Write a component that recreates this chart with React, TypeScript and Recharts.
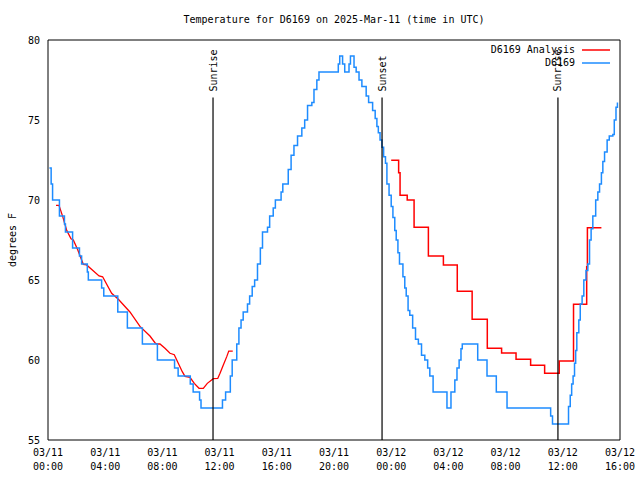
import React from "react";
import { ComposedChart, Line, XAxis, YAxis, ReferenceLine } from "recharts";

const FONT = "'DejaVu Sans Mono', 'Liberation Mono', monospace";
const RED = "#ff0000";
const BLUE = "#1e8cff";

// hours since 03/11 00:00 UTC
const MAJOR_HOURS = [0, 4, 8, 12, 16, 20, 24, 28, 32, 36, 40];
const ALL_HOURS = [
  0, 1, 2, 3, 4, 5, 6, 7, 8, 9, 10, 11, 12, 13, 14, 15, 16, 17, 18, 19, 20,
  21, 22, 23, 24, 25, 26, 27, 28, 29, 30, 31, 32, 33, 34, 35, 36, 37, 38, 39, 40,
];
const DATE_LABELS = ["03/11", "03/11", "03/11", "03/11", "03/11", "03/11", "03/12", "03/12", "03/12", "03/12", "03/12"];
const TIME_LABELS = ["00:00", "04:00", "08:00", "12:00", "16:00", "20:00", "00:00", "04:00", "08:00", "12:00", "16:00"];
const Y_TICKS = [55, 60, 65, 70, 75, 80];

const EVENT_HOURS = [11.54, 23.36, 35.66];
const EVENT_NAMES = ["Sunrise", "Sunset", "Sunrise"];
const EVENT_TOP = 76.4;

// observed D6169, [hour, degF], drawn as steps
const OBS: [number, number][] = [
  [0.1, 72], [0.22, 71], [0.32, 70], [0.8, 69], [1.15, 68.5], [1.22, 68], [1.72, 67],
  [2.2, 66.5], [2.35, 66], [2.75, 65.5], [2.82, 65], [3.75, 64.5], [3.9, 64], [4.88, 63],
  [5.55, 62], [6.6, 61], [7.65, 60], [8.85, 59.5], [9.1, 59], [9.95, 58.5], [10.15, 58],
  [10.6, 57.5], [10.7, 57], [12.2, 57.5], [12.42, 58], [12.75, 59], [12.88, 60], [13.2, 61],
  [13.35, 62], [13.5, 62.5], [13.65, 63], [13.95, 63.5], [14.1, 64], [14.28, 64.6], [14.45, 65],
  [14.65, 66], [14.85, 67], [15.0, 68], [15.35, 68.3], [15.5, 69], [15.75, 69.5], [15.9, 70],
  [16.3, 70.5], [16.42, 71], [16.8, 71.9], [17.0, 72.8], [17.2, 73.4], [17.45, 74], [17.75, 74.5],
  [17.95, 75], [18.15, 75.9], [18.45, 76.1], [18.6, 76.9], [18.8, 77.5], [18.95, 78], [20.3, 78.5],
  [20.4, 79], [20.6, 78.5], [20.75, 78], [21.05, 78.5], [21.15, 79], [21.4, 78.3], [21.55, 78],
  [21.75, 77.5], [21.95, 77.1], [22.25, 76.5], [22.42, 76.1], [22.7, 75.6], [22.88, 75.1],
  [23.0, 74.6], [23.1, 74.2], [23.22, 73.75], [23.35, 73.3], [23.47, 72.7], [23.6, 72.3],
  [23.7, 71], [23.85, 70.3], [24.0, 69.6], [24.12, 68.9], [24.25, 68.1], [24.35, 67.5],
  [24.47, 66.7], [24.58, 66], [24.82, 65.2], [24.95, 64.5], [25.05, 64], [25.18, 63.1],
  [25.3, 62.8], [25.5, 62], [25.7, 61.3], [25.9, 61], [26.12, 60.3], [26.35, 60], [26.55, 59.5],
  [26.7, 59], [26.93, 58], [27.9, 57], [28.18, 58], [28.45, 58.75], [28.6, 59.5], [28.75, 60],
  [28.88, 60.7], [28.97, 61], [30.05, 60], [30.7, 59], [31.35, 58], [32.1, 57], [35.15, 56.5],
  [35.28, 56], [36.4, 57.1], [36.52, 57.8], [36.62, 58.5], [36.72, 59], [36.82, 59.8], [36.9, 60.6],
  [36.98, 61.7], [37.12, 62.5], [37.22, 63.5], [37.35, 64], [37.47, 65], [37.62, 65.6], [37.75, 66],
  [37.87, 67.5], [37.98, 68.2], [38.1, 69], [38.3, 70], [38.45, 70.5], [38.57, 71], [38.7, 71.7],
  [38.8, 72.4], [38.92, 73], [39.1, 73.75], [39.25, 74], [39.5, 74.1], [39.6, 75], [39.72, 75.8],
  [39.82, 76.1],
];

// analysis, first day (smooth)
const ANALYSIS_1: [number, number][] = [
  [0.56, 69.67], [0.77, 69.67], [1.03, 68.96], [1.31, 68.1], [1.61, 67.58], [1.77, 67.5],
  [2.07, 66.9], [2.47, 65.98], [2.7, 65.94], [3.57, 65.25], [3.82, 65.2], [4.45, 64.17],
  [4.92, 63.8], [5.73, 63.0], [6.43, 62.1], [7.13, 61.5], [7.48, 61.08], [7.6, 61.0], [7.83, 61.0],
  [8.18, 60.73], [8.53, 60.42], [8.83, 60.33], [9.11, 59.8], [9.39, 59.27], [9.58, 58.98],
  [9.93, 58.92], [10.23, 58.54], [10.56, 58.23], [10.86, 58.23], [11.14, 58.54], [11.56, 58.83],
  [11.87, 58.85], [12.03, 59.17], [12.26, 59.69], [12.5, 60.21], [12.64, 60.56], [12.92, 60.56],
];

// analysis, second part (hourly steps)
const ANALYSIS_2: [number, number][] = [
  [24.0, 72.48], [24.52, 71.7], [24.62, 70.3], [25.12, 70.0], [25.6, 68.3], [26.6, 66.5],
  [27.65, 65.94], [28.62, 64.3], [29.66, 62.54], [30.72, 60.73], [31.72, 60.44], [32.73, 60.04],
  [33.75, 59.67], [34.73, 59.17], [35.75, 59.94], [36.75, 63.48], [37.67, 65.83], [37.72, 68.27],
  [38.7, 68.27],
];

const LEGEND = [
  { name: "D6169 Analysis", color: RED },
  { name: "D6169", color: BLUE },
];

const rows = (a: [number, number][]) => a.map(([h, t]) => ({ h, t }));

function DateTick({ x, y, payload }: any) {
  const i = MAJOR_HOURS.indexOf(payload.value);
  return (
    <text x={x} y={y} textAnchor="middle" fill="#000" fontSize={10} fontFamily={FONT}>
      <tspan x={x} dy={8}>{DATE_LABELS[i]}</tspan>
      <tspan x={x} dy={14}>{TIME_LABELS[i]}</tspan>
    </text>
  );
}

const NoTick = () => <g />;

function eventLabel(name: string) {
  return (p: any) => {
    const { x, y } = p.viewBox;
    const ty = y - 6;
    return (
      <text x={x} y={ty} transform={`rotate(-90 ${x} ${ty})`} dominantBaseline="central"
        fill="#000" fontSize={10} fontFamily={FONT}>
        {name}
      </text>
    );
  };
}

function yLabel(p: any) {
  const { x, y, height } = p.viewBox;
  const cx = x + 4, cy = y + height / 2;
  return (
    <text x={cx} y={cy} transform={`rotate(-90 ${cx} ${cy})`} textAnchor="middle"
      dominantBaseline="central" fill="#000" fontSize={10} fontFamily={FONT}>
      degrees F
    </text>
  );
}

export default function App() {
  const tickStyle = { fill: "#000", fontSize: 10, fontFamily: FONT };
  const frame = { stroke: "#000" };
  return (
    <div style={{ position: "absolute", left: 0, top: 0, width: 640, height: 480, background: "#fff", fontFamily: FONT }}>
      <ComposedChart width={640} height={480} margin={{ top: 40, right: 20, bottom: 10, left: 8 }}>
        <XAxis xAxisId="x" dataKey="h" type="number" domain={[0, 40]} ticks={MAJOR_HOURS}
          interval={0} allowDataOverflow tickLine={false} axisLine={frame}
          tick={<DateTick />} height={30} />
        <XAxis xAxisId="xb" type="number" domain={[0, 40]} ticks={ALL_HOURS} interval={0}
          mirror tickSize={5} tick={NoTick} axisLine={false} tickLine={frame} />
        <XAxis xAxisId="xt" orientation="top" type="number" domain={[0, 40]} ticks={ALL_HOURS} interval={0}
          mirror tickSize={5} tick={NoTick} axisLine={frame} tickLine={frame} />
        <YAxis yAxisId="y" type="number" domain={[55, 80]} ticks={Y_TICKS} interval={0}
          tickLine={false} axisLine={frame} tick={tickStyle} width={40} label={yLabel} />
        <YAxis yAxisId="yl" type="number" domain={[55, 80]} ticks={Y_TICKS} interval={0}
          mirror tickSize={5} tick={NoTick} axisLine={false} tickLine={frame} />
        <YAxis yAxisId="yr" orientation="right" type="number" domain={[55, 80]} ticks={Y_TICKS} interval={0}
          mirror tickSize={5} tick={NoTick} axisLine={frame} tickLine={frame} />

        <Line xAxisId="x" yAxisId="y" data={rows(ANALYSIS_1)} dataKey="t" type="linear"
          stroke={RED} strokeWidth={1.3} dot={false} isAnimationActive={false} />
        <Line xAxisId="x" yAxisId="y" data={rows(ANALYSIS_2)} dataKey="t" type="stepAfter"
          stroke={RED} strokeWidth={1.5} dot={false} isAnimationActive={false} />
        <Line xAxisId="x" yAxisId="y" data={rows(OBS)} dataKey="t" type="stepAfter"
          stroke={BLUE} strokeWidth={1.5} dot={false} isAnimationActive={false} />

        {EVENT_HOURS.map((h, i) => (
          <ReferenceLine key={i} xAxisId="x" yAxisId="y"
            segment={[{ x: h, y: EVENT_TOP }, { x: h, y: 55 }]}
            stroke="#000" strokeWidth={1.2} label={eventLabel(EVENT_NAMES[i])} />
        ))}
      </ComposedChart>

      <div style={{ position: "absolute", left: 48, top: 14, width: 572, textAlign: "center", fontSize: 10, lineHeight: "12px", color: "#000" }}>
        Temperature for D6169 on 2025-Mar-11 (time in UTC)
      </div>

      <div style={{ position: "absolute", right: 30, top: 43, fontSize: 10, lineHeight: "13px", color: "#000" }}>
        {LEGEND.map((l) => (
          <div key={l.name} style={{ display: "flex", justifyContent: "flex-end", alignItems: "center" }}>
            <span>{l.name}</span>
            <svg width={28} height={6} style={{ marginLeft: 7 }}>
              <line x1={0} y1={3} x2={28} y2={3} stroke={l.color} strokeWidth={1.5} />
            </svg>
          </div>
        ))}
      </div>
    </div>
  );
}
